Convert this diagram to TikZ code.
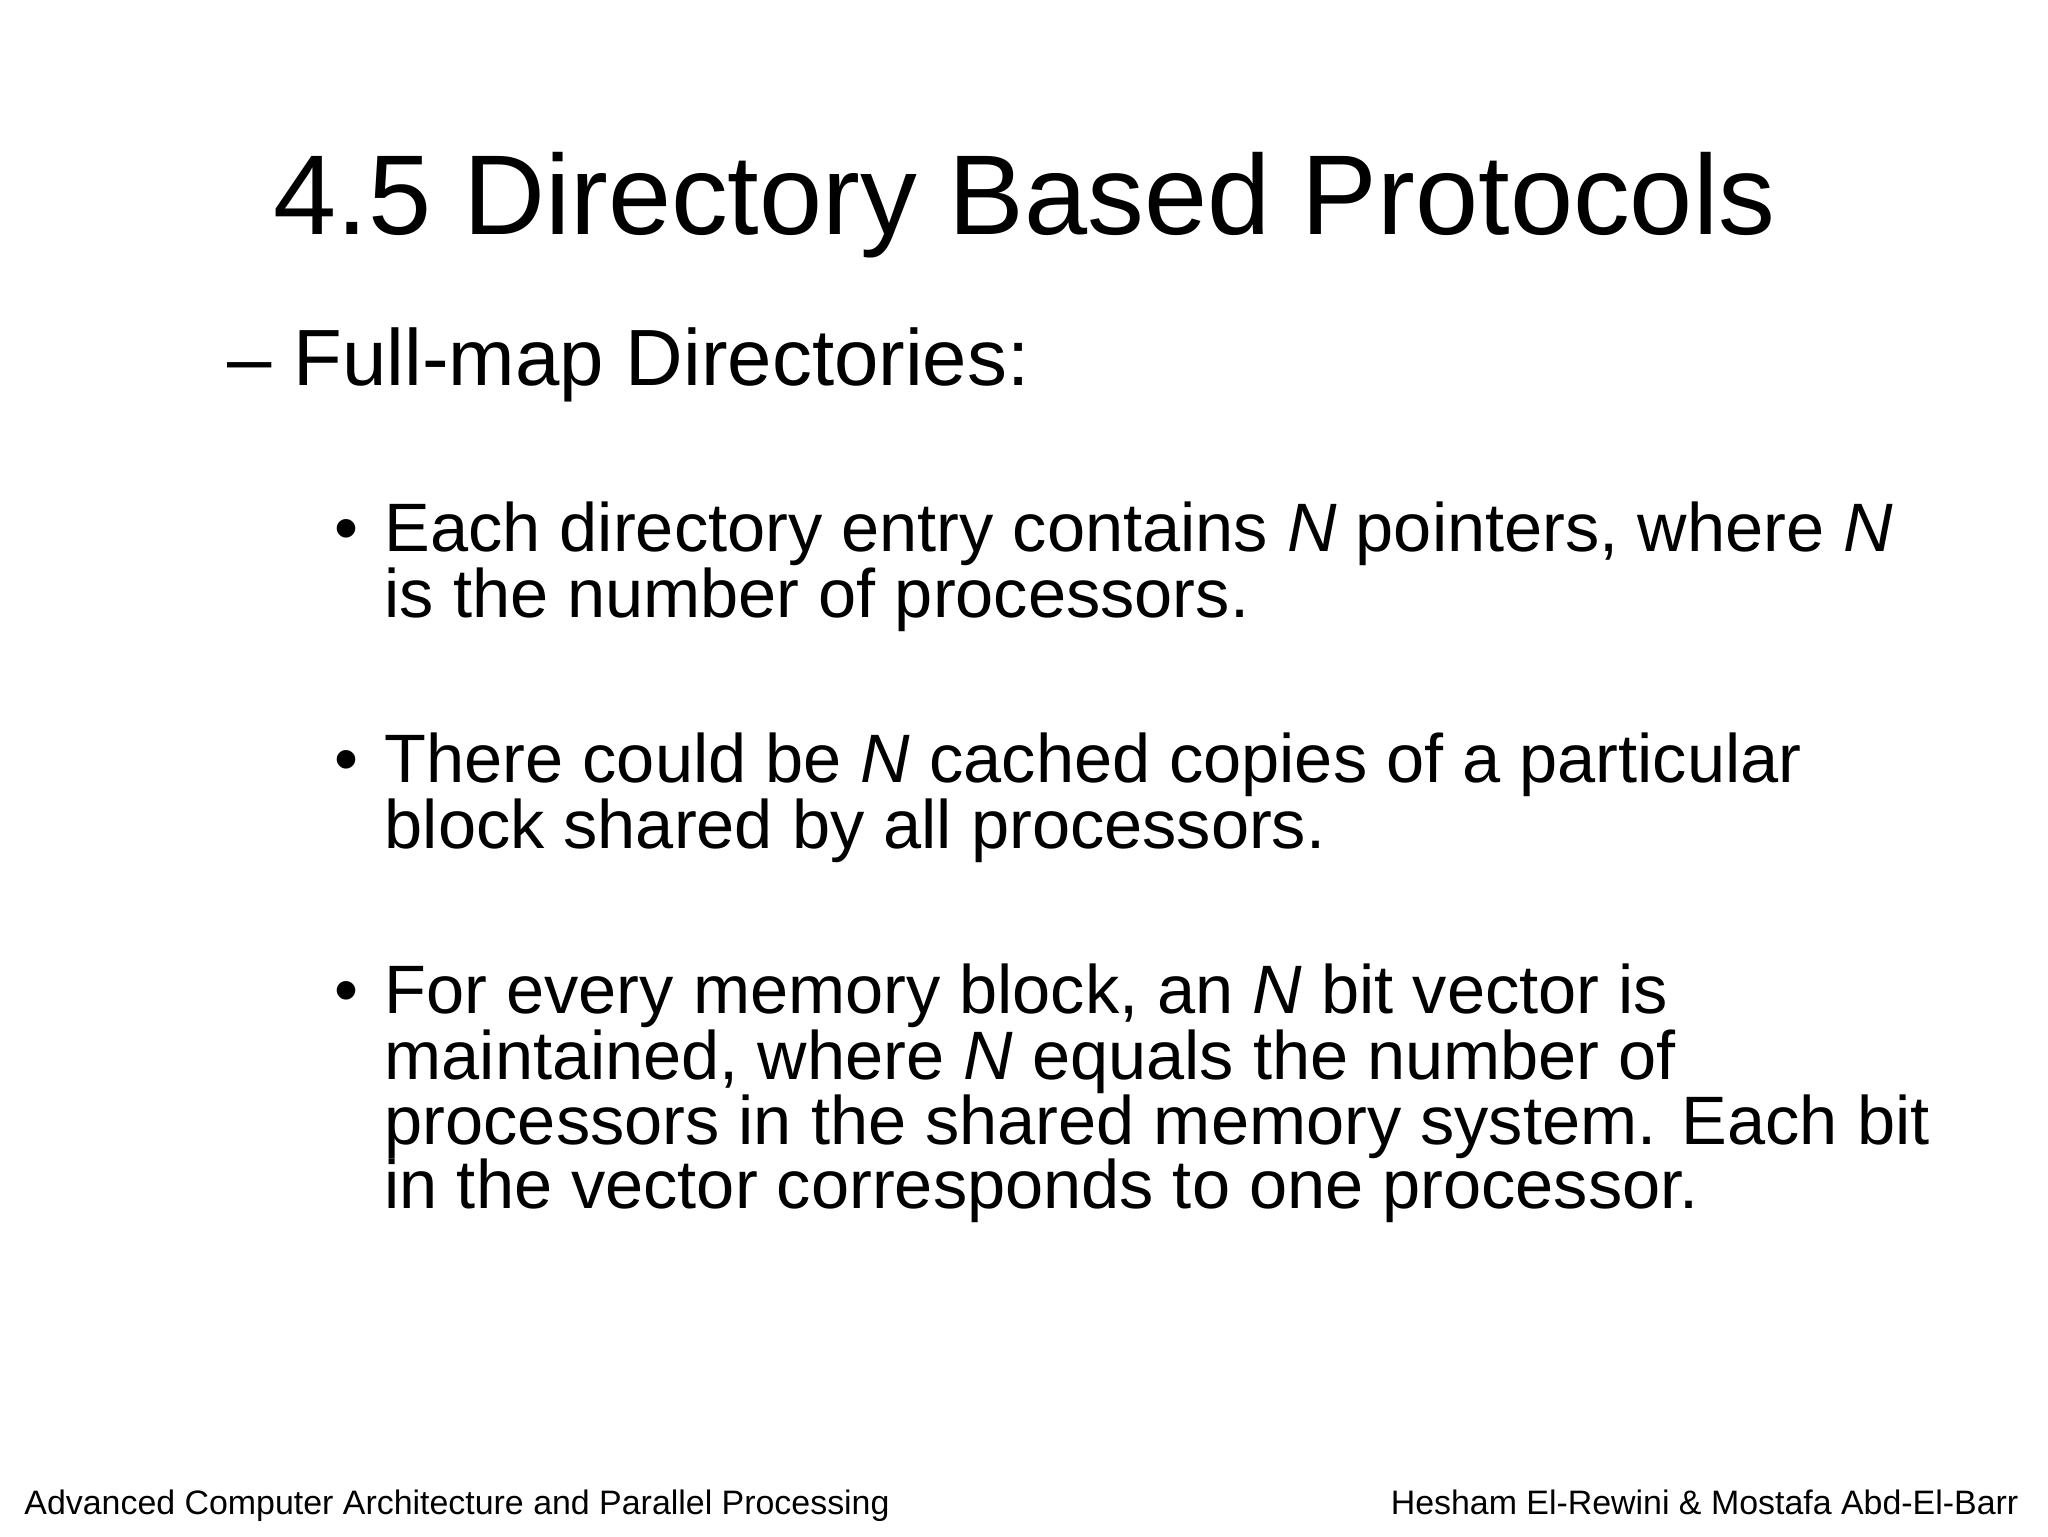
\documentclass[tikz,border=0pt]{standalone}
\usepackage{fontspec}
\setmainfont{Liberation Sans}
\begin{document}
\begin{tikzpicture}[x=0.013196cm,y=-0.013196cm,
 txt/.style={anchor=base west,inner sep=0pt,font=\fontsize{19.5}{20}\selectfont},
 ttl/.style={anchor=base west,inner sep=0pt,font=\fontsize{32.3}{33}\selectfont},
 sub/.style={anchor=base west,inner sep=0pt,font=\fontsize{22.7}{23}\selectfont},
 foot/.style={anchor=base,inner sep=0pt,font=\fontsize{9.65}{10}\selectfont}]
\useasboundingbox[fill=white] (0,0) rectangle (1552,1164);
\node[ttl] (title) at (207,178) {4.5 Directory Based Protocols};
\node[sub] (dash) at (172,292) {–};
\node[sub] (subh) at (222,292) {Full-map Directories:};
\node[txt] (b1) at (253,418) {•};
\node[txt] (l1) at (291,418) {Each directory entry contains \textit{N} pointers, where \textit{N}};
\node[txt] (l2) at (291,468) {is the number of processors.};
\node[txt] (b2) at (253,593) {•};
\node[txt] (l3) at (291,593) {There could be \textit{N} cached copies of a particular};
\node[txt] (l4) at (291,643) {block shared by all processors.};
\node[txt] (b3) at (253,768) {•};
\node[txt] (l5) at (291,768) {For every memory block, an \textit{N} bit vector is};
\node[txt] (l6) at (291,818) {maintained, where \textit{N} equals the number of};
\node[txt] (l7) at (291,867) {processors in the shared memory system. Each bit};
\node[txt] (l8) at (291,916) {in the vector corresponds to one processor.};
\node[foot,anchor=base west] (fl) at (18,1148) {Advanced Computer Architecture and Parallel Processing};
\node[foot,anchor=base east] (fr) at (1530,1148) {Hesham El-Rewini \& Mostafa Abd-El-Barr};
\end{tikzpicture}
\end{document}
